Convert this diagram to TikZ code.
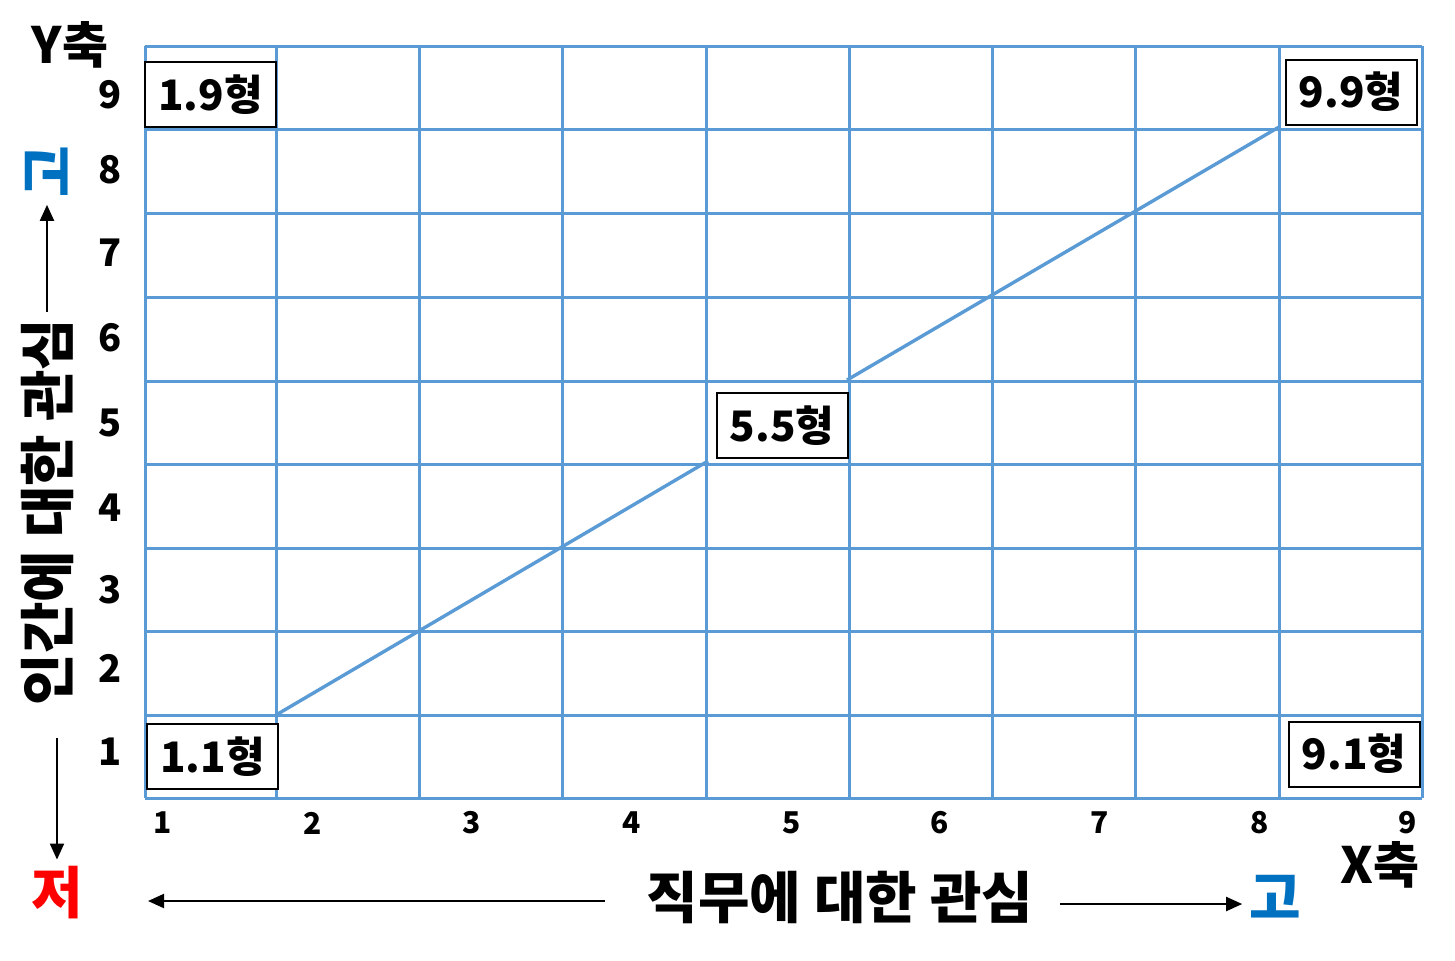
\documentclass[tikz,border=0pt]{standalone}
\usepackage{fontspec}
\setmainfont{Noto Sans CJK KR}
\usepackage{xcolor}
\usetikzlibrary{arrows.meta}

\definecolor{gridblue}{HTML}{5B9BD5}
\definecolor{highblue}{HTML}{0070C0}

\begin{document}
\begin{tikzpicture}[
    x=0.5pt, y=-0.5pt,
    gridline/.style={gridblue, line width=1.5pt},
    typebox/.style={draw, fill=white, line width=1pt, minimum width=65.5pt, minimum height=32.5pt, inner sep=0pt, font=\fontsize{21}{24}\selectfont\bfseries},
    ynum/.style={font=\fontsize{19}{22}\selectfont\bfseries},
    xnum/.style={font=\fontsize{15}{18}\selectfont\bfseries},
    axisname/.style={font=\fontsize{25}{30}\selectfont\bfseries},
    axistitle/.style={font=\fontsize{28}{32}\selectfont\bfseries},
    arrow/.style={line width=1pt, -{Triangle[length=8pt,width=7pt]}}
]
\useasboundingbox (0,0) rectangle (1455,960);

% Grid
\foreach \x in {145,276,419,562,706,849,992,1135,1279,1422}
    \draw[gridline] (\x,46) -- (\x,798);
\foreach \y in {46,129,213,297,381,464,548,631,715,798}
    \draw[gridline] (145,\y) -- (1422,\y);

% Diagonal
\coordinate (p11) at (276,715);
\coordinate (p44) at (708,461);
\coordinate (p66) at (847,380);
\coordinate (p99) at (1279,127);
\draw[gridline, line width=1.7pt] (p11) -- (p44);
\draw[gridline, line width=1.7pt] (p66) -- (p99);

% Types
\node[typebox] (t19) at (210.5,94.5) {1.9형};
\node[typebox] (t99) at (1351,92) {9.9형};
\node[typebox] (t55) at (782,425.5) {5.5형};
\node[typebox] (t11) at (212.5,756.5) {1.1형};
\node[typebox] (t91) at (1354,754) {9.1형};

% Scale numbers
\foreach \n/\y in {9/95,8/170,7/253,6/338,5/423,4/508,3/590,2/668,1/752}
    \node[ynum] (y\n) at (110,\y) {\n};
\foreach \n/\x in {1/163,2/313,3/472,4/632,5/792,6/940,7/1100,8/1260,9/1408}
    \node[xnum] (x\n) at (\x,823) {\n};

% Axis names
\node[axisname] (yaxis) at (70,45) {Y축};
\node[axisname] (xaxis) at (1380,865) {X축};

% Y axis
\node[axistitle, rotate=90] (ylab) at (47,512) {인간에 대한 관심};
\node[axistitle, rotate=90, text=highblue] (yhigh) at (47,172) {고};
\draw[arrow] (ylab.east) -- (ylab.east |- yhigh.west);
\coordinate (ydown) at (57,738);
\node[axistitle, text=red] (ylow) at (57,893) {저};
\draw[arrow] (ydown) -- (ylow.north);

% X axis
\node[axistitle] (xlab) at (840,897) {직무에 대한 관심};
\coordinate (xleft) at (605,901);
\coordinate (xleftend) at (148,901);
\draw[arrow] (xleft) -- (xleftend);
\coordinate (xright) at (1060,904);
\node[axistitle, text=highblue] (xhigh) at (1275,897) {고};
\draw[arrow] (xright) -- (xright -| xhigh.west);

\end{tikzpicture}
\end{document}
